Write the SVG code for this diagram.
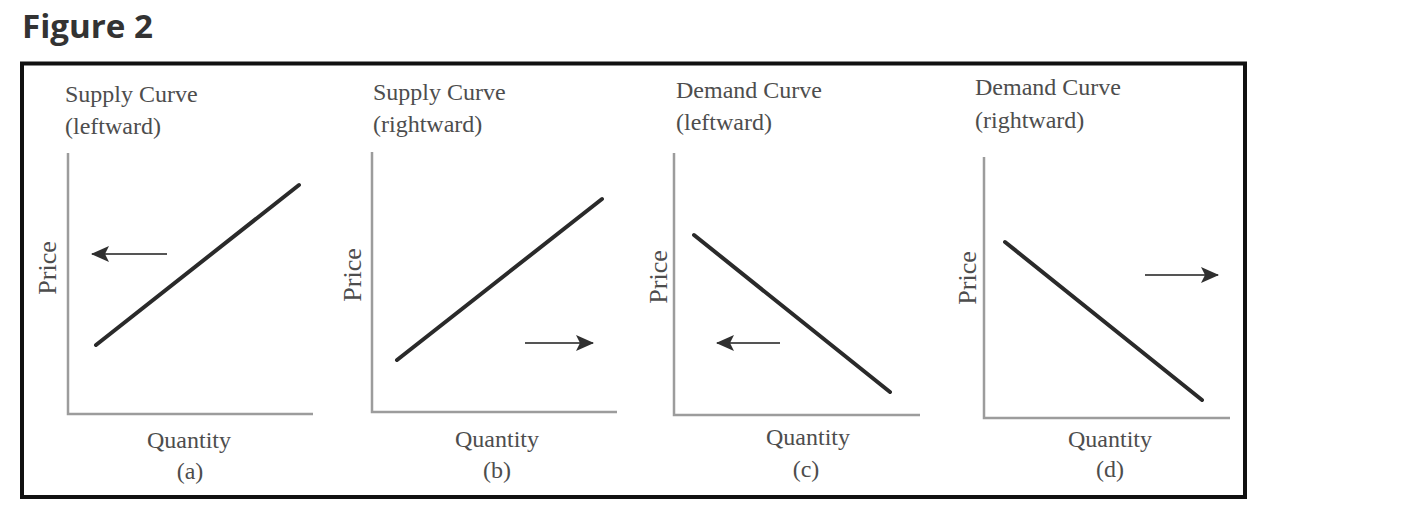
<svg xmlns="http://www.w3.org/2000/svg" width="1423" height="517" viewBox="0 0 1423 517">
<style>
.title{font-family:"Open Sans","Liberation Sans",sans-serif;font-weight:700;font-size:32px;fill:#333}
.lbl{font-family:"Liberation Serif","Times New Roman",serif;font-size:24px;fill:#4d4d4d}
.price{font-family:"Liberation Serif","Times New Roman",serif;font-size:26px;fill:#4d4d4d;text-anchor:middle}
.mid{text-anchor:middle}
.axis{stroke:#9c9c9c;stroke-width:2.5;fill:none}
.curve{stroke:#2a2a2a;stroke-width:4;stroke-linecap:round;fill:none}
.arr{stroke:#555;stroke-width:2;fill:none;marker-end:url(#ah)}
</style>
<defs>
<marker id="ah" viewBox="0 0 18 18" refX="17" refY="9" markerWidth="18" markerHeight="18" markerUnits="userSpaceOnUse" orient="auto">
<path d="M0,1 L18,9 L0,17 L4,9 Z" fill="#2f2f2f"/>
</marker>
</defs>
<rect width="1423" height="517" fill="#fff"/>
<text class="title" x="22" y="38" textLength="131" lengthAdjust="spacingAndGlyphs">Figure 2</text>
<rect id="frame" x="22" y="63.5" width="1223" height="433.5" fill="none" stroke="#111" stroke-width="4"/>

<g id="panel-a">
<text class="lbl" x="65" y="102">Supply Curve</text>
<text class="lbl" x="65" y="134">(leftward)</text>
<path class="axis" d="M68,153 V414 H313"/>
<text class="price" transform="translate(56,268) rotate(-90)">Price</text>
<line class="curve" x1="96" y1="345" x2="299" y2="185"/>
<text class="lbl mid" x="189" y="448">Quantity</text>
<text class="lbl mid" x="190" y="479">(a)</text>
</g>

<g id="panel-b">
<text class="lbl" x="373" y="100">Supply Curve</text>
<text class="lbl" x="373" y="132">(rightward)</text>
<path class="axis" d="M372,152 V412 H617"/>
<text class="price" transform="translate(361,275) rotate(-90)">Price</text>
<line class="curve" x1="397" y1="360" x2="602" y2="199"/>
<text class="lbl mid" x="497" y="447">Quantity</text>
<text class="lbl mid" x="497" y="478">(b)</text>
</g>

<g id="panel-c">
<text class="lbl" x="676" y="98">Demand Curve</text>
<text class="lbl" x="676" y="130">(leftward)</text>
<path class="axis" d="M674,153 V415 H920"/>
<text class="price" transform="translate(667,277) rotate(-90)">Price</text>
<line class="curve" x1="694" y1="235" x2="890" y2="392"/>
<text class="lbl mid" x="808" y="445">Quantity</text>
<text class="lbl mid" x="806" y="477">(c)</text>
</g>

<g id="panel-d">
<text class="lbl" x="975" y="95">Demand Curve</text>
<text class="lbl" x="975" y="128">(rightward)</text>
<path class="axis" d="M984,157 V418 H1230"/>
<text class="price" transform="translate(976,278) rotate(-90)">Price</text>
<line class="curve" x1="1005" y1="242" x2="1202" y2="400"/>
<text class="lbl mid" x="1110" y="447">Quantity</text>
<text class="lbl mid" x="1110" y="477">(d)</text>
</g>

<g id="connectors">
<line class="arr" x1="167" y1="254" x2="92" y2="254"/>
<line class="arr" x1="525" y1="343" x2="593" y2="343"/>
<line class="arr" x1="780" y1="343" x2="717" y2="343"/>
<line class="arr" x1="1145" y1="275" x2="1218" y2="275"/>
</g>
</svg>
